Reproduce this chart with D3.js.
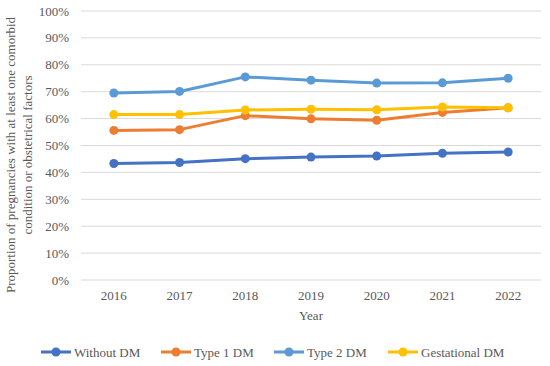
<!DOCTYPE html>
<html>
<head>
<meta charset="utf-8">
<script src="https://cdn.jsdelivr.net/npm/d3@7"></script>
<style>
  body { margin: 0; background: #fff; }
  svg { font-family: "Liberation Serif", "Times New Roman", serif; }
</style>
</head>
<body>
<svg id="chart" width="550" height="366"></svg>
<script>
(function() {
  const years = ['2016', '2017', '2018', '2019', '2020', '2021', '2022'];
  const without_dm = [43.3, 43.7, 45.1, 45.7, 46.1, 47.1, 47.6];
  const type1_dm = [55.6, 55.9, 61.1, 59.9, 59.4, 62.3, 64.0];
  const type2_dm = [69.5, 70.1, 75.5, 74.3, 73.2, 73.3, 75.0];
  const gestational_dm = [61.5, 61.5, 63.2, 63.5, 63.3, 64.3, 64.0];
  const y_ticks = [0, 10, 20, 30, 40, 50, 60, 70, 80, 90, 100];

  const series = [
    {name: 'Without DM', values: without_dm, color: '#4472c4'},
    {name: 'Type 1 DM', values: type1_dm, color: '#ed7d31'},
    {name: 'Type 2 DM', values: type2_dm, color: '#5b9bd5'},
    {name: 'Gestational DM', values: gestational_dm, color: '#ffc000'}
  ];

  const svg = d3.select('#chart');
  const xScale = d3.scaleBand().domain(years).range([81, 541]);
  const yScale = d3.scaleLinear().domain([0, 100]).range([280, 11]);

  // gridlines
  svg.append('g').selectAll('line').data(y_ticks).enter().append('line')
    .attr('x1', 81).attr('x2', 541)
    .attr('y1', function(d) { return yScale(d); })
    .attr('y2', function(d) { return yScale(d); })
    .attr('stroke', '#d9d9d9').attr('stroke-width', 1);

  // y tick labels
  svg.append('g').selectAll('text').data(y_ticks).enter().append('text')
    .attr('x', 69).attr('y', function(d) { return yScale(d) + 4.5; })
    .attr('text-anchor', 'end').attr('font-size', 13).attr('fill', '#595959')
    .text(function(d) { return d + '%'; });

  // x tick labels
  svg.append('g').selectAll('text').data(years).enter().append('text')
    .attr('x', function(d) { return xScale(d) + xScale.bandwidth() / 2; })
    .attr('y', 300).attr('text-anchor', 'middle').attr('font-size', 13).attr('fill', '#595959')
    .text(function(d) { return d; });

  svg.append('text').attr('x', 311).attr('y', 320).attr('text-anchor', 'middle')
    .attr('font-size', 13).attr('fill', '#595959').text('Year');

  const ylab = svg.append('text').attr('transform', 'translate(15,155) rotate(-90)')
    .attr('text-anchor', 'middle').attr('font-size', 13).attr('fill', '#595959');
  ylab.append('tspan').attr('x', 0).attr('y', 0).text('Proportion of pregnancies with at least one comorbid');
  ylab.append('tspan').attr('x', 0).attr('y', 16.5).text('condition or obstetrical factors');

  const line = d3.line()
    .x(function(d, i) { return xScale(years[i]) + xScale.bandwidth() / 2; })
    .y(function(d) { return yScale(d); });

  const plot = svg.append('g');
  series.forEach(function(s) {
    const g = plot.append('g');
    g.append('path').attr('d', line(s.values)).attr('fill', 'none')
      .attr('stroke', s.color).attr('stroke-width', 3).attr('stroke-linejoin', 'round');
    g.selectAll('circle').data(s.values).enter().append('circle')
      .attr('cx', function(d, i) { return xScale(years[i]) + xScale.bandwidth() / 2; })
      .attr('cy', function(d) { return yScale(d); })
      .attr('r', 4.5).attr('fill', s.color);
  });

  // legend
  const legend_x = [41, 161, 274, 388];
  const legend = svg.append('g').selectAll('g').data(series).enter().append('g')
    .attr('transform', function(d, i) { return 'translate(' + legend_x[i] + ',352)'; });
  legend.append('line').attr('x1', 0).attr('x2', 30).attr('y1', 0).attr('y2', 0)
    .attr('stroke', function(d) { return d.color; }).attr('stroke-width', 3);
  legend.append('circle').attr('cx', 15).attr('cy', 0).attr('r', 4.5)
    .attr('fill', function(d) { return d.color; });
  legend.append('text').attr('x', 33).attr('y', 4.5).attr('font-size', 13).attr('fill', '#595959')
    .text(function(d) { return d.name; });
}());
</script>
</body>
</html>
